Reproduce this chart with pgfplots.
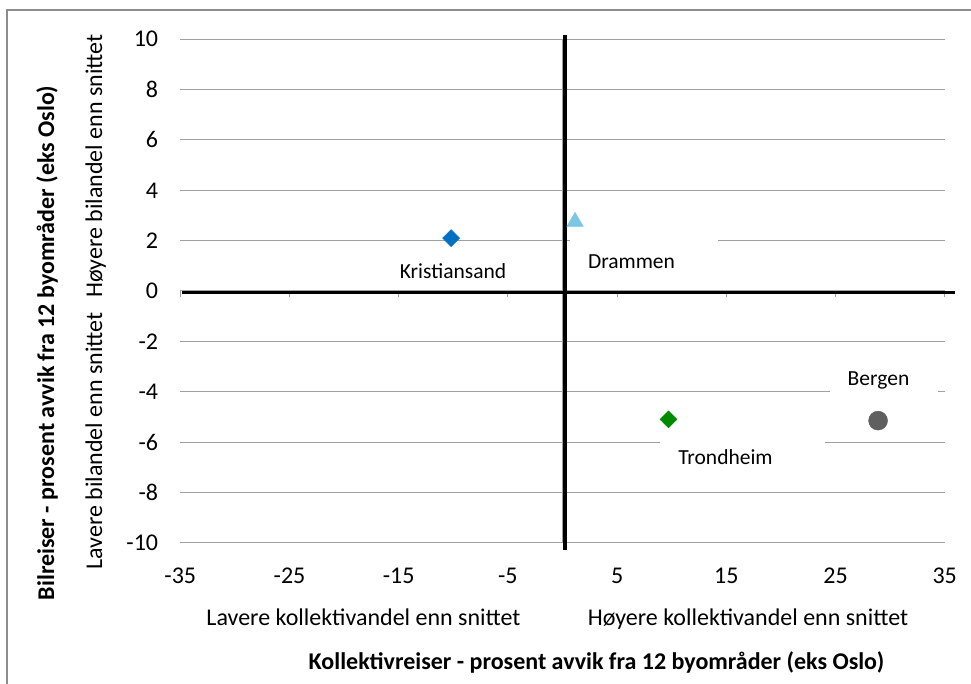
\documentclass[border=0pt]{standalone}
\usepackage{pgfplots}
\pgfplotsset{compat=1.18}
\usepackage{fontspec}
\setmainfont{Carlito}
\definecolor{kblue}{HTML}{0070C0}
\definecolor{ltblue}{HTML}{7CC6E4}
\definecolor{kgreen}{HTML}{008A00}
\definecolor{kgray}{HTML}{5F5F5F}
\definecolor{gridgray}{HTML}{A0A0A0}
\definecolor{bordergray}{HTML}{8C8C8C}
\begin{document}
\begin{tikzpicture}
\useasboundingbox (0pt,0pt) rectangle (971pt,684pt);
\draw[bordergray, line width=1.5pt] (7pt,-20pt) rectangle (990pt,674pt);
\begin{axis}[
  at={(180.3pt,141.3pt)}, anchor=south west,
  scale only axis, width=764.4pt, height=503.4pt,
  xmin=-35, xmax=35, ymin=-10, ymax=10,
  xtick={-35,-25,...,35}, ytick={-10,-8,...,10},
  axis line style={draw=none},
  major tick length=0pt,
  ymajorgrids, grid style={color=gridgray, line width=1pt},
  tick label style={font=\fontsize{24}{29}\selectfont},
  /pgf/number format/assume math mode=true,
  xticklabel style={anchor=center, inner sep=0pt, yshift=-33.5pt},
  yticklabel style={anchor=east, inner sep=0pt, xshift=-22pt},
  clip=false,
]
\draw[gridgray, line width=1pt] (axis cs:0,-10) -- (axis cs:0,10);
\pgfplotsinvokeforeach{-35,-25,-15,-5,5,15,25,35}{\draw[gridgray, line width=1pt] (axis cs:#1,0) -- ++(0pt,-6pt);}
\draw[black, line width=3.4pt] (axis cs:-34.84,-0.06) -- (axis cs:35.94,-0.06);
\draw[black, line width=4pt] (axis cs:0.23,10.17) -- (axis cs:0.23,-10.29);
% Kristiansand
\addplot[only marks, mark=square*, mark size=6pt, mark options={rotate=45, fill=kblue, draw=kblue}] coordinates {(-10.2,2.1)};
% Drammen
\addplot[only marks, mark=triangle*, mark size=9.5pt, mark options={fill=ltblue, draw=ltblue}] coordinates {(1.15,2.75)};
% Trondheim
\addplot[only marks, mark=square*, mark size=6pt, mark options={rotate=45, fill=kgreen, draw=kgreen}] coordinates {(9.7,-5.1)};
% Bergen
\addplot[only marks, mark=*, mark size=9.5pt, mark options={fill=kgray, draw=kgray}] coordinates {(28.9,-5.15)};
\end{axis}
\fill[white] (570pt,395pt) rectangle (718pt,449pt);
\fill[white] (830pt,284pt) rectangle (938pt,329pt);
\fill[white] (660pt,204pt) rectangle (825pt,251pt);
\node[anchor=base, inner sep=0pt, font=\fontsize{21.5}{26}\selectfont] at (453pt,405pt) {Kristiansand};
\node[anchor=base, inner sep=0pt, font=\fontsize{21.5}{26}\selectfont] at (631.5pt,415.7pt) {Drammen};
\node[anchor=base, inner sep=0pt, font=\fontsize{21.5}{26}\selectfont] at (878.5pt,298.3pt) {Bergen};
\node[anchor=base, inner sep=0pt, font=\fontsize{21.5}{26}\selectfont] at (725.5pt,219pt) {Trondheim};
\node[rotate=90, anchor=base, inner sep=0pt, font=\fontsize{24}{29}\selectfont] at (102pt,518pt) {Høyere bilandel enn snittet};
\node[rotate=90, anchor=base, inner sep=0pt, font=\fontsize{24}{29}\selectfont] at (102pt,243pt) {Lavere bilandel enn snittet};
\node[rotate=90, anchor=base, inner sep=0pt, font=\fontsize{24}{29}\selectfont\bfseries] at (54pt,341pt) {Bilreiser - prosent avvik fra 12 byområder (eks Oslo)};
\node[anchor=base, inner sep=0pt, font=\fontsize{24}{29}\selectfont] at (363.5pt,58pt) {Lavere kollektivandel enn snittet};
\node[anchor=base, inner sep=0pt, font=\fontsize{24}{29}\selectfont] at (748pt,58pt) {Høyere kollektivandel enn snittet};
\node[anchor=base, inner sep=0pt, font=\fontsize{24}{29}\selectfont\bfseries] at (596.5pt,14pt) {Kollektivreiser - prosent avvik fra 12 byområder (eks Oslo)};
\end{tikzpicture}
\end{document}
